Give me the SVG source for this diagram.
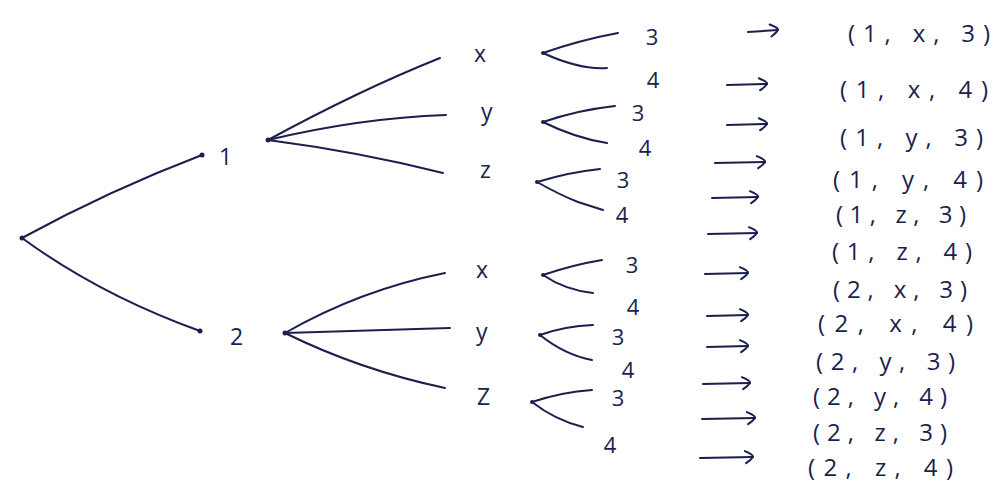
<svg xmlns="http://www.w3.org/2000/svg" width="1004" height="498" viewBox="0 0 1004 498">
<style>
.ink{fill:none;stroke:#1b1f4d;stroke-width:2;stroke-linecap:round;stroke-linejoin:round}
.dot{fill:#1b1f4d}
.t{font-family:"Open Sans","DejaVu Sans",sans-serif;fill:#1b1f4d}
.lab{font-size:23px}
.leaf{font-size:22px;text-anchor:middle}
.tup{font-size:24px}
</style>
<defs>
<marker id="hook" markerUnits="userSpaceOnUse" markerWidth="14" markerHeight="16" viewBox="-10 -8 14 16" refX="0" refY="0" orient="auto">
<path d="M-8,-6 Q1,-2 0,0 Q-2,3 -7,6" fill="none" stroke="#1b1f4d" stroke-width="2" stroke-linecap="round"/>
</marker>
</defs>
<rect width="1004" height="498" fill="#ffffff"/>

<g id="connectors" class="ink">
<path d="M22,238 Q110,190 202,155"/>
<path d="M22,238 Q100,295 200,331"/>
<path d="M268,140 Q360,90 440,58"/>
<path d="M268,140 Q360,118 446,115"/>
<path d="M268,140 Q360,152 443,173"/>
<path d="M285,333 Q360,290 445,273"/>
<path d="M285,333 L450,328"/>
<path d="M285,333 Q360,370 445,388"/>
<path d="M543,53 Q580,40 618,33"/>
<path d="M543,53 Q580,70 607,68"/>
<path d="M543,122 Q578,110 615,106"/>
<path d="M543,122 Q575,138 607,143"/>
<path d="M537,182 Q570,172 600,169"/>
<path d="M537,182 Q560,195 578,202 L603,210"/>
<path d="M543,275 Q572,265 602,260"/>
<path d="M543,275 Q565,290 593,293"/>
<path d="M540,335 Q565,326 593,325"/>
<path d="M540,335 Q565,355 592,360"/>
<path d="M532,402 Q562,392 592,390"/>
<path d="M532,402 Q555,420 583,427"/>
</g>

<g id="arrows" class="ink">
<path d="M748,32 L778,30" marker-end="url(#hook)"/>
<path d="M727,85 L767,84" marker-end="url(#hook)"/>
<path d="M727,125 L767,124" marker-end="url(#hook)"/>
<path d="M715,163 L765,162" marker-end="url(#hook)"/>
<path d="M712,198 L758,197" marker-end="url(#hook)"/>
<path d="M708,234 L757,233" marker-end="url(#hook)"/>
<path d="M705,274 L748,273" marker-end="url(#hook)"/>
<path d="M707,316 L748,315" marker-end="url(#hook)"/>
<path d="M707,347 L748,346" marker-end="url(#hook)"/>
<path d="M703,384 L750,383" marker-end="url(#hook)"/>
<path d="M702,419 L755,418" marker-end="url(#hook)"/>
<path d="M700,458 L753,457" marker-end="url(#hook)"/>
</g>

<g id="root"><circle class="dot" cx="22" cy="238" r="2.5"/></g>

<g id="n1">
<circle class="dot" cx="202" cy="155" r="2.5"/>
<circle class="dot" cx="268" cy="140" r="2.5"/>
<text class="t lab" x="219" y="165">1</text>
</g>
<g id="n2">
<circle class="dot" cx="200" cy="331" r="2.5"/>
<circle class="dot" cx="285" cy="333" r="2.5"/>
<text class="t lab" x="230" y="345">2</text>
</g>

<g id="n1x"><text class="t lab" x="474" y="62">x</text><circle class="dot" cx="543" cy="53" r="2"/></g>
<g id="n1y"><text class="t lab" x="481" y="120">y</text><circle class="dot" cx="543" cy="122" r="2"/></g>
<g id="n1z"><text class="t lab" x="480" y="178">z</text><circle class="dot" cx="537" cy="182" r="2"/></g>
<g id="n2x"><text class="t lab" x="476" y="278">x</text><circle class="dot" cx="543" cy="275" r="2"/></g>
<g id="n2y"><text class="t lab" x="476" y="340">y</text><circle class="dot" cx="540" cy="335" r="2"/></g>
<g id="n2z"><text class="t lab" x="477" y="405">Z</text><circle class="dot" cx="532" cy="402" r="2"/></g>

<g id="leaves">
<text class="t leaf" x="652" y="45">3</text>
<text class="t leaf" x="653" y="88">4</text>
<text class="t leaf" x="638" y="121">3</text>
<text class="t leaf" x="645" y="156">4</text>
<text class="t leaf" x="623" y="188">3</text>
<text class="t leaf" x="622" y="223">4</text>
<text class="t leaf" x="632" y="273">3</text>
<text class="t leaf" x="633" y="315">4</text>
<text class="t leaf" x="618" y="345">3</text>
<text class="t leaf" x="628" y="378">4</text>
<text class="t leaf" x="618" y="406">3</text>
<text class="t leaf" x="610" y="453">4</text>
</g>

<g id="outcomes">
<text class="t tup" x="848" y="42" textLength="142" lengthAdjust="spacing">(1, x, 3)</text>
<text class="t tup" x="840" y="98" textLength="148" lengthAdjust="spacing">(1, x, 4)</text>
<text class="t tup" x="840" y="146" textLength="143" lengthAdjust="spacing">(1, y, 3)</text>
<text class="t tup" x="833" y="188" textLength="150" lengthAdjust="spacing">(1, y, 4)</text>
<text class="t tup" x="836" y="223" textLength="130" lengthAdjust="spacing">(1, z, 3)</text>
<text class="t tup" x="832" y="260" textLength="140" lengthAdjust="spacing">(1, z, 4)</text>
<text class="t tup" x="833" y="298" textLength="134" lengthAdjust="spacing">(2, x, 3)</text>
<text class="t tup" x="818" y="332" textLength="155" lengthAdjust="spacing">(2, x, 4)</text>
<text class="t tup" x="816" y="370" textLength="139" lengthAdjust="spacing">(2, y, 3)</text>
<text class="t tup" x="813" y="405" textLength="134" lengthAdjust="spacing">(2, y, 4)</text>
<text class="t tup" x="813" y="441" textLength="134" lengthAdjust="spacing">(2, z, 3)</text>
<text class="t tup" x="808" y="476" textLength="145" lengthAdjust="spacing">(2, z, 4)</text>
</g>
</svg>
